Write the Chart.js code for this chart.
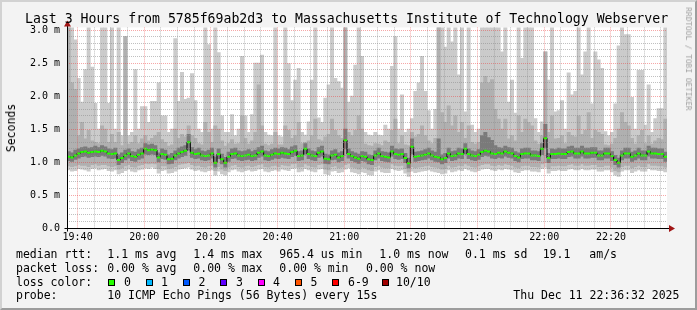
<!DOCTYPE html>
<html><head><meta charset="utf-8">
<script src="https://cdn.jsdelivr.net/npm/chart.js@4.4.0/dist/chart.umd.min.js"></script>
<style>
html,body{margin:0;padding:0;background:#f3f3f3;}
#wrap{position:relative;width:697px;height:310px;overflow:hidden;background:#f3f3f3;}
#frame{position:absolute;left:0;top:0;width:697px;height:310px;box-sizing:border-box;border-top:2px solid #d2d2d2;border-left:2px solid #d2d2d2;border-right:2px solid #9c9c9c;border-bottom:2px solid #9c9c9c;pointer-events:none;}
canvas{position:absolute;left:0;top:0;}
.t{position:absolute;font-family:'DejaVu Sans Mono',monospace;white-space:pre;color:#000;font-size:11.5px;line-height:14px;}
.sq{position:absolute;width:5px;height:5px;border:1px solid #000;top:278.5px;}
</style></head><body>
<div id="wrap">
<canvas id="c" width="697" height="310"></canvas>
<div class="t" style="left:25px;top:11.4px;font-size:13.2px;line-height:16px;">Last 3 Hours from 5785f69ab2d3 to Massachusetts Institute of Technology Webserver</div>
<div class="t" style="left:10.7px;top:127.5px;transform:translate(-50%,-50%) rotate(-90deg);">Seconds</div>
<div class="t" style="left:688px;top:59px;font-size:7.8px;line-height:10px;color:#a0a0a0;transform:translate(-50%,-50%) rotate(90deg);">RRDTOOL / TOBI OETIKER</div>

<div class="t" style="left:16px;top:247.3px;">median rtt:</div>
<div class="t" style="left:107.3px;top:247.3px;">1.1 ms avg</div>
<div class="t" style="left:193.3px;top:247.3px;">1.4 ms max</div>
<div class="t" style="left:279.3px;top:247.3px;">965.4 us min</div>
<div class="t" style="left:379.3px;top:247.3px;">1.0 ms now</div>
<div class="t" style="left:465px;top:247.3px;">0.1 ms sd</div>
<div class="t" style="left:542.7px;top:247.3px;">19.1</div>
<div class="t" style="left:589.3px;top:247.3px;">am/s</div>

<div class="t" style="left:16px;top:260.8px;">packet loss:</div>
<div class="t" style="left:107.3px;top:260.8px;">0.00 % avg</div>
<div class="t" style="left:193.3px;top:260.8px;">0.00 % max</div>
<div class="t" style="left:279.3px;top:260.8px;">0.00 % min</div>
<div class="t" style="left:366px;top:260.8px;">0.00 % now</div>

<div class="t" style="left:16px;top:274.6px;">loss color:</div>
<div class="sq" style="left:108px;background:#26ff00;"></div><div class="t" style="left:124px;top:274.6px;">0</div>
<div class="sq" style="left:145.5px;background:#00b8ff;"></div><div class="t" style="left:161px;top:274.6px;">1</div>
<div class="sq" style="left:183px;background:#0059ff;"></div><div class="t" style="left:198.5px;top:274.6px;">2</div>
<div class="sq" style="left:220px;background:#5e00ff;"></div><div class="t" style="left:236px;top:274.6px;">3</div>
<div class="sq" style="left:257.5px;background:#ff00ff;"></div><div class="t" style="left:273px;top:274.6px;">4</div>
<div class="sq" style="left:295px;background:#ff5500;"></div><div class="t" style="left:310.5px;top:274.6px;">5</div>
<div class="sq" style="left:332px;background:#ff0000;"></div><div class="t" style="left:348px;top:274.6px;">6-9</div>
<div class="sq" style="left:381.5px;background:#a10000;"></div><div class="t" style="left:396px;top:274.6px;">10/10</div>

<div class="t" style="left:16px;top:288.3px;">probe:</div>
<div class="t" style="left:107.3px;top:288.3px;">10 ICMP Echo Pings (56 Bytes) every 15s</div>
<div class="t" style="left:513.3px;top:288.3px;">Thu Dec 11 22:36:32 2025</div>
<div id="frame"></div>
</div>
<script>
// ---- data (milliseconds), one sample per minute starting at 19:36:49 ----
const firstSample = '19:36:49';
const xTickLabels = ['19:40','20:00','20:20','20:40','21:00','21:20','21:40','22:00','22:20'];
const yTickLabels = ['0.0','0.5 m','1.0 m','1.5 m','2.0 m','2.5 m','3.0 m'];

const medRtt = [
1.08,1.07,1.10,1.13,1.15,1.16,1.14,1.15,1.16,1.15,
1.17,1.16,1.13,1.12,1.13,1.03,1.06,1.10,1.13,1.09,
1.08,1.11,1.13,1.20,1.18,1.19,1.18,1.07,1.12,1.11,
1.04,1.05,1.10,1.13,1.15,1.17,1.30,1.14,1.12,1.13,
1.10,1.09,1.10,1.13,0.99,1.12,1.04,0.99,1.08,1.12,
1.13,1.10,1.09,1.10,1.11,1.09,1.10,1.14,1.16,1.10,
1.09,1.11,1.13,1.12,1.14,1.13,1.12,1.15,1.17,1.09,
1.10,1.20,1.12,1.10,1.09,1.14,1.16,1.05,1.04,1.10,
1.11,1.07,1.09,1.33,1.12,1.09,1.07,1.05,1.09,1.08,
1.04,1.03,1.10,1.13,1.09,1.08,1.07,1.16,1.12,1.11,
1.12,1.06,0.98,1.23,1.08,1.09,1.10,1.11,1.13,1.10,
1.08,1.07,1.04,1.06,1.13,1.09,1.10,1.13,1.12,1.20,
1.12,1.10,1.09,1.11,1.15,1.17,1.16,1.13,1.12,1.14,
1.13,1.16,1.14,1.13,1.09,1.07,1.12,1.13,1.13,1.10,
1.10,1.09,1.20,1.36,1.06,1.12,1.12,1.13,1.12,1.12,
1.15,1.16,1.13,1.13,1.16,1.13,1.13,1.14,1.14,1.10,
1.10,1.13,1.13,1.09,1.03,0.99,1.10,1.13,1.13,1.08,
1.10,1.13,1.10,1.10,1.16,1.13,1.13,1.12,1.12,1.08];

// outer smoke (lightest): min .. max ping
const smokeOuterLow = [
0.88,0.86,0.87,0.90,0.89,0.88,0.86,0.90,0.91,0.88,
0.89,0.90,0.87,0.86,0.88,0.82,0.84,0.87,0.89,0.86,
0.85,0.88,0.89,0.91,0.90,0.92,0.90,0.83,0.87,0.88,
0.83,0.84,0.86,0.89,0.90,0.91,0.92,0.89,0.87,0.88,
0.86,0.85,0.87,0.88,0.80,0.86,0.82,0.80,0.85,0.88,
0.89,0.86,0.85,0.87,0.88,0.86,0.87,0.89,0.90,0.86,
0.85,0.87,0.88,0.86,0.89,0.88,0.87,0.90,0.91,0.85,
0.86,0.90,0.88,0.86,0.85,0.89,0.90,0.82,0.81,0.86,
0.87,0.84,0.85,0.89,0.91,0.85,0.84,0.82,0.85,0.84,
0.81,0.80,0.86,0.88,0.85,0.84,0.84,0.90,0.88,0.87,
0.88,0.83,0.78,0.86,0.84,0.85,0.86,0.87,0.88,0.86,
0.85,0.84,0.82,0.83,0.88,0.85,0.86,0.88,0.87,0.90,
0.88,0.86,0.85,0.87,0.89,0.90,0.90,0.88,0.87,0.89,
0.88,0.90,0.89,0.88,0.85,0.84,0.87,0.88,0.88,0.86,
0.86,0.85,0.90,0.92,0.83,0.87,0.87,0.88,0.87,0.87,
0.89,0.90,0.88,0.88,0.90,0.88,0.88,0.89,0.89,0.86,
0.86,0.88,0.88,0.85,0.80,0.78,0.86,0.88,0.88,0.84,
0.86,0.88,0.86,0.86,0.90,0.88,0.88,0.87,0.87,0.85];
const smokeOuterHigh = [
3.3,3.3,2.85,2.27,1.91,2.4,3.3,2.44,1.89,1.5,
3.3,3.3,1.89,3.3,1.5,3.3,1.4,2.9,1.4,1.45,
2.4,1.5,1.84,1.84,1.6,1.92,1.92,2.2,1.7,1.7,
1.45,1.5,2.87,1.92,2.36,1.95,1.97,2.34,1.93,1.5,
1.45,3.3,2.78,1.5,3.3,2.66,1.7,1.45,1.45,1.72,
1.4,1.5,2.6,1.7,1.45,1.72,2.5,2.5,2.62,1.45,
1.41,1.4,3.3,1.4,1.38,3.3,2.49,1.93,2.24,2.42,
1.45,1.41,1.61,2.24,3.3,1.67,1.6,1.97,2.17,3.3,
2.27,2.22,2.12,3.3,1.91,2.0,2.47,3.3,2.6,1.45,
1.41,1.4,1.45,1.41,1.4,1.56,1.5,2.45,2.9,1.5,
2.02,1.45,1.5,1.66,2.07,2.2,2.6,2.07,1.78,1.5,
1.8,3.3,3.3,2.74,3.3,2.82,3.3,2.32,3.3,1.76,
3.3,1.56,1.45,1.5,3.3,3.3,3.3,3.3,3.3,3.3,
2.67,3.3,1.91,2.24,1.74,3.3,2.57,3.3,3.3,3.3,
1.66,1.45,1.61,2.67,2.24,3.3,1.76,1.78,1.93,1.5,
2.35,2.02,2.07,3.3,2.32,2.67,3.3,1.88,2.67,2.55,
2.42,1.46,1.4,1.45,1.88,2.76,3.3,2.93,2.93,1.98,
1.5,2.39,2.39,1.56,2.17,1.45,1.66,1.81,1.81,3.3];

// middle smoke
const smokeMidLow = [
0.94,0.93,0.94,0.96,0.95,0.95,0.93,0.96,0.97,0.95,
0.96,0.96,0.94,0.93,0.94,0.89,0.91,0.94,0.96,0.93,
0.92,0.95,0.96,0.98,0.97,0.98,0.97,0.90,0.94,0.94,
0.90,0.91,0.93,0.96,0.97,0.98,0.99,0.96,0.94,0.95,
0.93,0.92,0.94,0.95,0.87,0.93,0.89,0.87,0.92,0.95,
0.96,0.93,0.92,0.94,0.95,0.93,0.94,0.96,0.97,0.93,
0.92,0.94,0.95,0.93,0.96,0.95,0.94,0.97,0.98,0.92,
0.93,0.97,0.95,0.93,0.92,0.96,0.97,0.89,0.88,0.93,
0.94,0.91,0.92,0.96,0.98,0.92,0.91,0.89,0.92,0.91,
0.88,0.87,0.93,0.95,0.92,0.91,0.91,0.97,0.95,0.94,
0.95,0.90,0.85,0.93,0.91,0.92,0.93,0.94,0.95,0.93,
0.92,0.91,0.89,0.90,0.95,0.92,0.93,0.95,0.94,0.97,
0.95,0.93,0.92,0.94,0.96,0.97,0.97,0.95,0.94,0.96,
0.95,0.97,0.96,0.95,0.92,0.91,0.94,0.95,0.95,0.93,
0.93,0.92,0.97,0.99,0.90,0.94,0.94,0.95,0.94,0.94,
0.96,0.97,0.95,0.95,0.97,0.95,0.95,0.96,0.96,0.93,
0.93,0.95,0.95,0.92,0.87,0.85,0.93,0.95,0.95,0.91,
0.93,0.95,0.93,0.93,0.97,0.95,0.95,0.94,0.94,0.92];
const smokeMidHigh = [
3.3,2.2,2.1,1.40,1.60,1.35,1.48,1.32,1.30,1.28,
1.55,1.50,1.30,1.42,1.30,1.45,1.25,2.9,1.27,1.30,
1.40,1.28,1.35,1.40,1.32,1.36,1.40,1.45,1.34,1.30,
1.24,1.26,1.50,1.36,1.42,1.38,1.55,1.40,1.36,1.28,
1.26,1.60,1.45,1.30,1.55,1.50,1.32,1.24,1.28,1.34,
1.27,1.28,1.70,1.36,1.27,1.32,1.45,2.17,1.55,1.27,
1.25,1.27,1.45,1.26,1.26,1.55,1.48,1.36,1.40,1.60,
1.28,1.30,1.32,1.40,1.65,1.34,1.32,1.38,1.42,1.65,
1.48,1.40,1.36,3.3,1.45,1.40,1.48,1.70,1.50,1.27,
1.25,1.24,1.28,1.27,1.25,1.32,1.30,1.48,1.65,1.28,
1.40,1.26,1.25,1.45,1.38,1.42,1.55,1.40,1.32,1.28,
1.36,3.3,1.75,1.60,1.85,1.55,1.70,1.45,1.60,1.36,
1.55,1.30,1.27,1.30,2.20,2.30,2.20,2.25,1.80,1.65,
1.50,1.65,1.35,1.40,1.32,1.70,1.45,1.65,1.60,1.55,
1.32,1.27,1.40,2.67,1.45,1.70,1.35,1.36,1.40,1.28,
1.45,1.40,1.38,1.70,1.42,1.48,1.75,1.36,1.48,1.45,
1.42,1.26,1.25,1.27,1.36,1.50,1.75,1.60,1.55,1.36,
1.27,1.40,1.48,1.28,1.40,1.27,1.32,1.36,1.34,1.65];

// inner smoke (darkest)
const smokeInnerLow = [
1.02,1.01,1.04,1.06,1.08,1.09,1.07,1.08,1.09,1.08,
1.10,1.09,1.06,1.05,1.06,0.96,0.99,1.03,1.06,1.02,
1.01,1.04,1.06,1.12,1.11,1.12,1.11,1.00,1.05,1.04,
0.97,0.98,1.03,1.06,1.08,1.10,1.18,1.07,1.05,1.06,
1.03,1.02,1.03,1.06,0.92,1.05,0.97,0.92,1.01,1.05,
1.06,1.03,1.02,1.03,1.04,1.02,1.03,1.07,1.09,1.03,
1.02,1.04,1.06,1.05,1.07,1.06,1.05,1.08,1.10,1.02,
1.03,1.12,1.05,1.03,1.02,1.07,1.09,0.98,0.97,1.03,
1.04,1.00,1.02,1.20,1.06,1.02,1.00,0.98,1.02,1.01,
0.97,0.96,1.03,1.06,1.02,1.01,1.00,1.09,1.05,1.04,
1.05,0.99,0.91,1.12,1.01,1.02,1.03,1.04,1.06,1.03,
1.01,1.00,0.97,0.99,1.06,1.02,1.03,1.06,1.05,1.12,
1.05,1.03,1.02,1.04,1.08,1.10,1.09,1.06,1.05,1.07,
1.06,1.09,1.07,1.06,1.02,1.00,1.05,1.06,1.06,1.03,
1.03,1.02,1.11,1.22,0.99,1.05,1.05,1.06,1.05,1.05,
1.08,1.09,1.06,1.06,1.09,1.06,1.06,1.07,1.07,1.03,
1.03,1.06,1.06,1.02,0.96,0.92,1.03,1.06,1.06,1.01,
1.03,1.06,1.03,1.03,1.09,1.06,1.06,1.05,1.05,1.01];
const smokeInnerHigh = [
1.16,1.14,1.18,1.20,1.22,1.23,1.21,1.22,1.24,1.22,
1.25,1.23,1.20,1.19,1.21,1.11,1.14,1.18,1.20,1.16,
1.15,1.19,1.21,1.28,1.26,1.27,1.25,1.14,1.20,1.18,
1.11,1.13,1.17,1.21,1.23,1.25,1.42,1.22,1.19,1.21,
1.17,1.16,1.18,1.21,1.08,1.20,1.12,1.07,1.15,1.20,
1.21,1.17,1.16,1.17,1.19,1.16,1.18,1.22,1.24,1.17,
1.16,1.19,1.21,1.20,1.22,1.21,1.19,1.23,1.25,1.16,
1.17,1.28,1.20,1.17,1.16,1.22,1.24,1.12,1.11,1.17,
1.19,1.14,1.16,1.50,1.20,1.16,1.14,1.12,1.16,1.15,
1.11,1.10,1.17,1.21,1.16,1.15,1.14,1.24,1.20,1.19,
1.20,1.13,1.06,1.35,1.15,1.16,1.17,1.19,1.21,1.17,
1.15,1.35,1.11,1.13,1.21,1.16,1.17,1.21,1.20,1.28,
1.20,1.17,1.16,1.19,1.40,1.45,1.37,1.33,1.25,1.22,
1.21,1.24,1.22,1.21,1.16,1.14,1.20,1.21,1.21,1.17,
1.17,1.16,1.28,1.57,1.13,1.20,1.19,1.21,1.20,1.20,
1.23,1.24,1.21,1.21,1.24,1.21,1.21,1.22,1.22,1.17,
1.17,1.21,1.21,1.16,1.10,1.06,1.17,1.21,1.21,1.15,
1.17,1.21,1.17,1.17,1.24,1.21,1.21,1.20,1.20,1.15];

// ---- build ----
const toMin = s => { const p = s.split(':').map(Number); return p[0]*60 + p[1] + (p[2]||0)/60; };
const t0 = toMin(firstSample);
const sampleTimes = medRtt.map((_, i) => t0 + i + 0.5);
const xMajor = xTickLabels.map(toMin);
const xTicks = [];
for (let v = xMajor[0]; v <= t0 + medRtt.length; v += 5) xTicks.push(v);
const yTicks = [];
for (let i = 0; i <= 30; i++) yTicks.push(i / 10);

const band = (lo, hi, color, order) => ({
  type: 'bar',
  data: lo.map((v, i) => ({x: sampleTimes[i], y: [v, hi[i]]})),
  backgroundColor: color, borderWidth: 0,
  barPercentage: 1, categoryPercentage: 1, grouped: false, order
});

const isMajorX = v => xMajor.some(m => Math.abs(m - v) < 1e-6);
const isMajorY = v => Math.abs(v * 2 - Math.round(v * 2)) < 1e-6;

const frame = {
  id: 'frame',
  beforeDraw(chart) {
    const {ctx, chartArea: a} = chart;
    ctx.save(); ctx.fillStyle = '#ffffff';
    ctx.fillRect(a.left, a.top, a.right - a.left, a.bottom - a.top);
    ctx.restore();
  },
  afterDraw(chart) {
    const {ctx, chartArea: a} = chart;
    const x0 = Math.round(a.left) + 0.5, y0 = Math.round(a.bottom) + 0.5;
    ctx.save();
    ctx.strokeStyle = '#000'; ctx.lineWidth = 1; ctx.setLineDash([]);
    ctx.beginPath();
    ctx.moveTo(x0 - 3, y0); ctx.lineTo(a.right + 3, y0);
    ctx.moveTo(x0, y0 + 3); ctx.lineTo(x0, a.top - 2);
    ctx.stroke();
    ctx.fillStyle = '#a01515';
    ctx.beginPath();
    ctx.moveTo(a.right + 2, y0 - 3.5); ctx.lineTo(a.right + 8, y0); ctx.lineTo(a.right + 2, y0 + 3.5); ctx.closePath(); ctx.fill();
    ctx.beginPath();
    ctx.moveTo(x0 - 3.5, a.top - 1); ctx.lineTo(x0, a.top - 7); ctx.lineTo(x0 + 3.5, a.top - 1); ctx.closePath(); ctx.fill();
    ctx.restore();
  }
};

new Chart(document.getElementById('c'), {
  type: 'bar',
  data: {
    datasets: [
      band(smokeOuterLow, smokeOuterHigh, '#cbcbcb', 5),
      band(smokeMidLow, smokeMidHigh, '#b0b0b0', 4),
      band(smokeInnerLow, smokeInnerHigh, '#7a7a7a', 3),
      {
        type: 'line',
        data: medRtt.map((v, i) => ({x: sampleTimes[i], y: v})),
        borderColor: '#000', borderWidth: 1, stepped: 'middle', fill: false,
        pointStyle: 'line', pointRadius: 1.7, pointBorderWidth: 2,
        pointBorderColor: '#26ff00', pointBackgroundColor: '#26ff00',
        order: 1
      }
    ]
  },
  options: {
    responsive: false, animation: false, devicePixelRatio: 1,
    events: [],
    layout: {padding: {left: 0, right: 30, top: 27.4, bottom: 0}},
    plugins: {legend: {display: false}, tooltip: {enabled: false}, title: {display: false}},
    scales: {
      x: {
        type: 'linear', offset: false,
        min: t0, max: t0 + medRtt.length,
        afterBuildTicks: s => { s.ticks = xTicks.map(v => ({value: v})); },
        afterFit: s => { s.height = 82; },
        ticks: {
          autoSkip: false, maxRotation: 0, minRotation: 0, padding: 3,
          color: '#000', font: {family: 'DejaVu Sans Mono', size: 10},
          callback: v => { const k = xMajor.findIndex(m => Math.abs(m - v) < 1e-6); return k >= 0 ? xTickLabels[k] : ''; }
        },
        grid: {
          z: 1, drawTicks: false, lineWidth: 1, offset: false,
          color: c => isMajorX(c.tick.value) ? 'rgba(235,60,60,0.45)' : 'rgba(140,140,140,0.55)'
        },
        border: {display: false, dash: [1, 1]}
      },
      y: {
        type: 'linear', min: 0, max: 3.04,
        afterBuildTicks: s => { s.ticks = yTicks.map(v => ({value: v})); },
        afterFit: s => { s.width = 67; },
        ticks: {
          autoSkip: false, padding: 7, color: '#000',
          font: {family: 'DejaVu Sans Mono', size: 10},
          callback: v => isMajorY(v) ? yTickLabels[Math.round(v * 2)] : ''
        },
        grid: {
          z: 1, drawTicks: false, lineWidth: 1,
          color: c => isMajorY(c.tick.value) ? 'rgba(235,60,60,0.45)' : 'rgba(140,140,140,0.55)'
        },
        border: {display: false, dash: [1, 1]}
      }
    }
  },
  plugins: [frame]
});
</script>
</body></html>
